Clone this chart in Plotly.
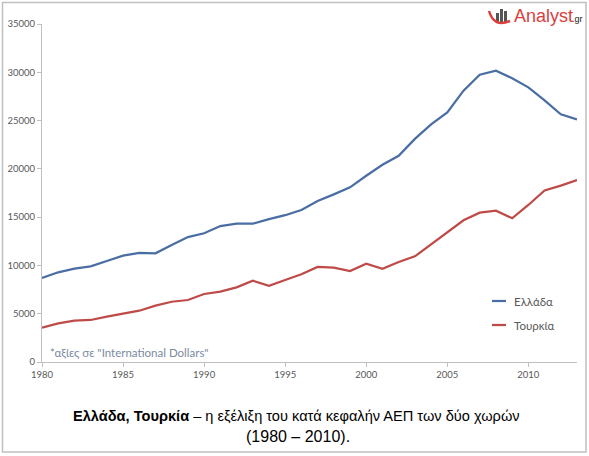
import plotly.graph_objects as go

years = list(range(1980, 2014))
greece_name = "Ελλάδα"
turkey_name = "Τουρκία"
greece = [8700, 9290, 9660, 9910, 10460, 11010, 11290, 11250, 12120, 12940,
          13330, 14080, 14320, 14320, 14800, 15200, 15740, 16680, 17360, 18090,
          19290, 20430, 21350, 23100, 24610, 25850, 28100, 29750, 30170, 29380,
          28440, 27100, 25650, 25130]
turkey = [3550, 4000, 4280, 4350, 4690, 4970, 5310, 5830, 6240, 6420,
          7040, 7280, 7730, 8420, 7900, 8490, 9080, 9840, 9770, 9420,
          10180, 9660, 10360, 10940, 12190, 13500, 14670, 15460, 15670, 14880,
          16260, 17760, 18260, 18850]
x_ticks = [1980, 1985, 1990, 1995, 2000, 2005, 2010]
y_ticks = [0, 5000, 10000, 15000, 20000, 25000, 30000, 35000]

blue = "#4a6ea3"
red = "#be4b48"

W, H = 589, 456
L, R, T, B = 42, 12, 24, 94
pw, ph = W - L - R, H - T - B

def px(x):
    return (x - L) / pw

def py(y):
    return (H - B - y) / ph

fig = go.Figure()
fig.add_trace(go.Scatter(x=years, y=greece, mode="lines", name=greece_name,
                         line=dict(color=blue, width=2.25), showlegend=False))
fig.add_trace(go.Scatter(x=years, y=turkey, mode="lines", name=turkey_name,
                         line=dict(color=red, width=2.25), showlegend=False))

axis_font = dict(family="Lato, Open Sans, sans-serif", size=9.5, color="#595959")
fig.update_xaxes(range=[1980, 2013], tickvals=x_ticks, ticktext=[str(v) for v in x_ticks],
                 showgrid=False, zeroline=False, automargin=False,
                 showline=True, linecolor="#bfbfbf", linewidth=1,
                 ticks="outside", ticklen=4, tickcolor="#bfbfbf", tickfont=axis_font)
fig.update_yaxes(range=[0, 35000], tickvals=y_ticks, ticktext=[str(v) for v in y_ticks],
                 showgrid=False, zeroline=False, automargin=False,
                 showline=True, linecolor="#bfbfbf", linewidth=1,
                 ticks="outside", ticklen=4, tickcolor="#bfbfbf", tickfont=axis_font)

shapes = []
annotations = []
# outer border
shapes.append(dict(type="rect", xref="paper", yref="paper",
                   x0=px(2.5), x1=px(586), y0=py(452), y1=py(2.5),
                   line=dict(color="#c0c0c0", width=1.5)))
# manual legend
for i, (nm, col) in enumerate([(greece_name, blue), (turkey_name, red)]):
    yy = 301 + i * 24
    shapes.append(dict(type="line", xref="paper", yref="paper",
                       x0=px(492), x1=px(506), y0=py(yy), y1=py(yy),
                       line=dict(color=col, width=2.25)))
    annotations.append(dict(x=px(512), y=py(yy), xref="paper", yref="paper",
                            text=nm, showarrow=False, xanchor="left", yanchor="middle",
                            font=dict(family="Lato, Open Sans, sans-serif", size=11.5, color="#595959")))
# note
annotations.append(dict(x=px(48), y=py(352), xref="paper", yref="paper",
                        text='*αξίες σε "International Dollars"', showarrow=False,
                        xanchor="left", yanchor="middle",
                        font=dict(family="Lato, Open Sans, sans-serif", size=11.5, color="#7b8aa0")))
# caption
annotations.append(dict(x=px(296), y=py(416), xref="paper", yref="paper",
                        text="<b>Ελλάδα, Τουρκία</b> – η εξέλιξη του κατά κεφαλήν ΑΕΠ των δύο χωρών",
                        showarrow=False, xanchor="center", yanchor="middle",
                        font=dict(family="Liberation Sans, Arial, sans-serif", size=14.6, color="#000000")))
annotations.append(dict(x=px(298), y=py(437), xref="paper", yref="paper",
                        text="(1980 – 2010).",
                        showarrow=False, xanchor="center", yanchor="middle",
                        font=dict(family="Liberation Sans, Arial, sans-serif", size=16, color="#000000")))
# logo
annotations.append(dict(x=px(512), y=py(16), xref="paper", yref="paper",
                        text="Analyst", showarrow=False, xanchor="left", yanchor="middle",
                        font=dict(family="Liberation Sans Narrow, Liberation Sans, Arial, sans-serif",
                                  size=18, color="#d9403e")))
annotations.append(dict(x=px(570), y=py(19), xref="paper", yref="paper",
                        text=".gr", showarrow=False, xanchor="left", yanchor="middle",
                        font=dict(family="Liberation Sans, Arial, sans-serif", size=9, color="#222222")))
for (x0, x1, y0) in [(496, 499, 13), (500, 503, 9), (504, 507, 11)]:
    shapes.append(dict(type="rect", xref="paper", yref="paper",
                       x0=px(x0), x1=px(x1), y0=py(22), y1=py(y0),
                       fillcolor="#555555", line=dict(width=0)))
shapes.append(dict(type="path", xref="paper", yref="paper",
                   path=f"M {px(489)} {py(11)} Q {px(494)} {py(28)} {px(510)} {py(21)}",
                   line=dict(color="#d9403e", width=2.5)))

fig.update_layout(width=W, height=H, margin=dict(l=L, r=R, t=T, b=B),
                  paper_bgcolor="white", plot_bgcolor="white",
                  shapes=shapes, annotations=annotations)

fig.write_html("out.html", config={"displayModeBar": False},
               post_script="document.body.style.margin='0px';document.body.style.overflow='hidden';")
